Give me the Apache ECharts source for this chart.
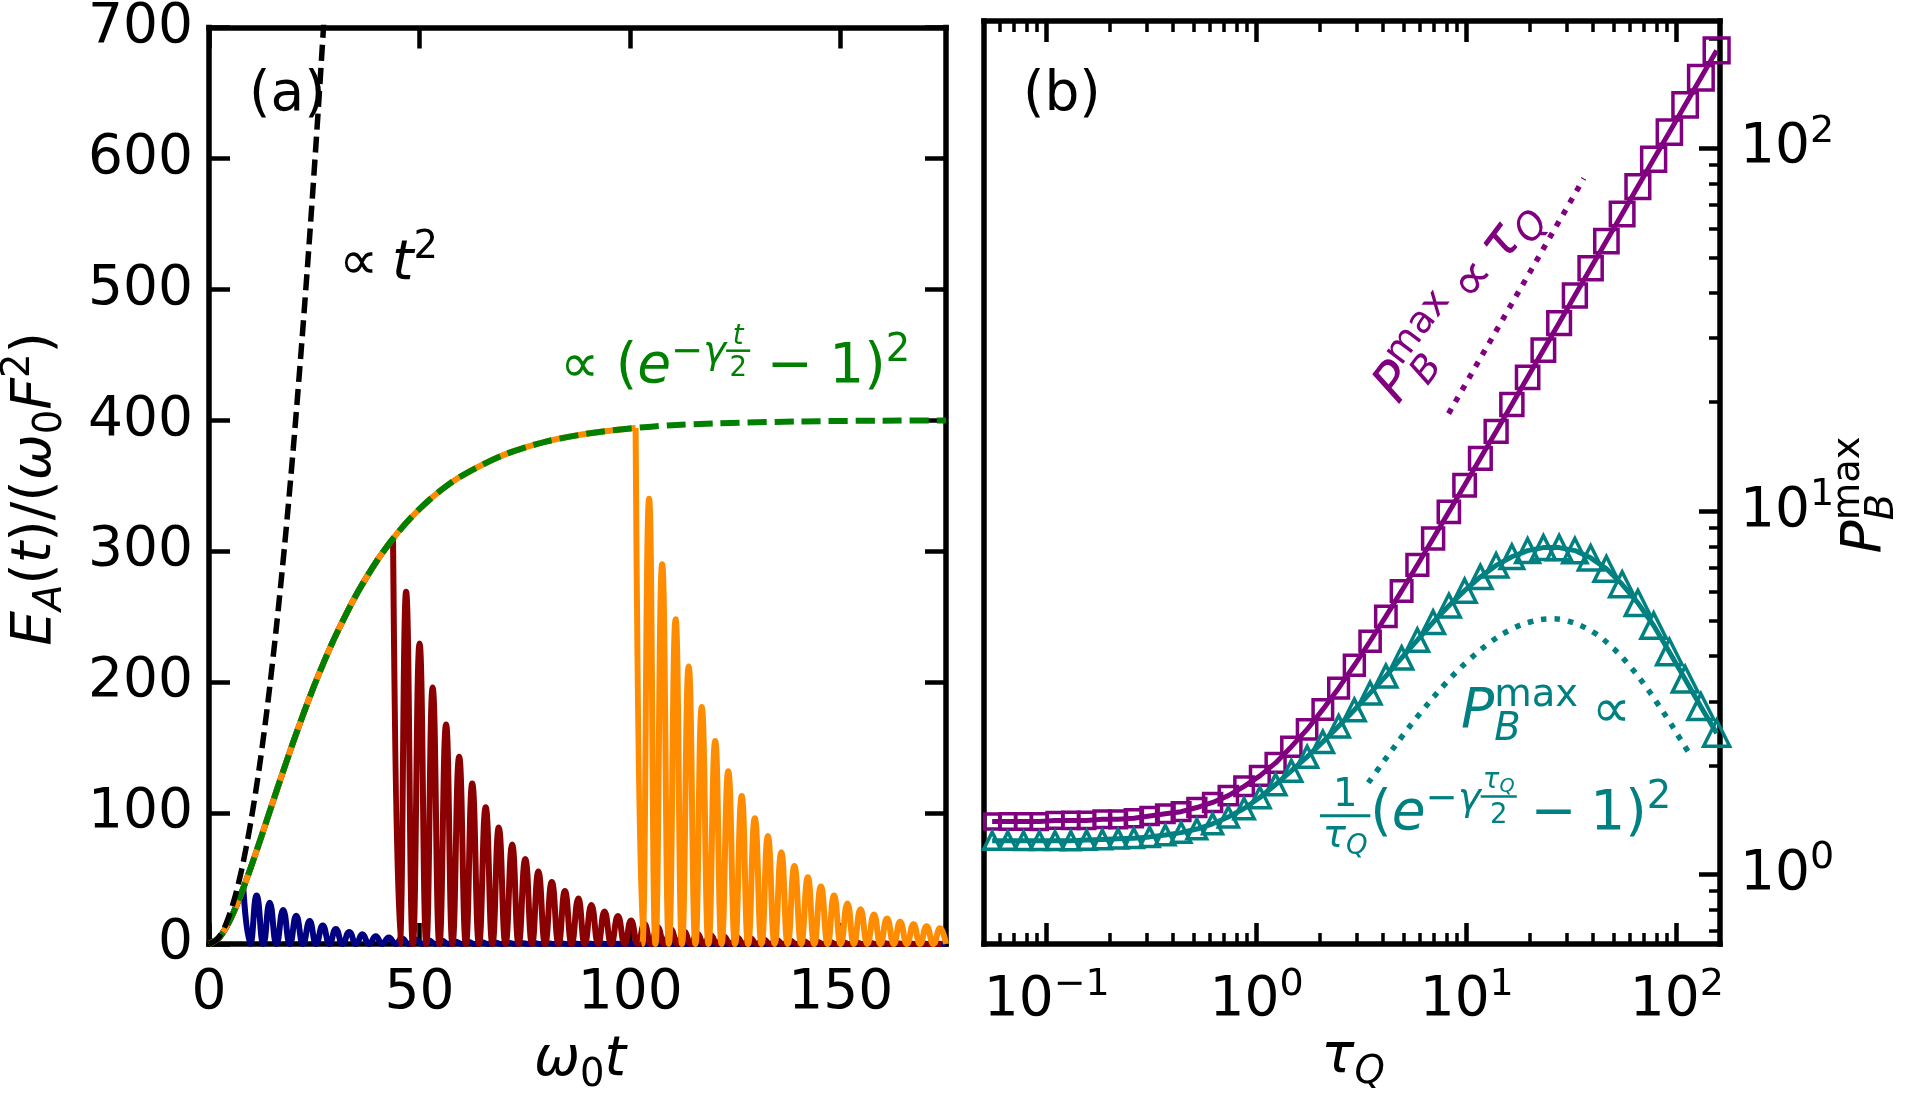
<!DOCTYPE html>
<html><head><meta charset="utf-8">
<script src="https://cdn.jsdelivr.net/npm/echarts@6/dist/echarts.min.js"></script>
<style>html,body{margin:0;padding:0;background:#fff;}#c{width:1917px;height:1095px;}</style>
</head><body><div id="c"></div>
<script>
// ---------------- DATA ----------------
// Panel (a)
const greenT = [0, 2.5, 5, 7.5, 10, 12.5, 15, 17.5, 20, 22.5, 25, 27.5, 30, 35, 40, 45, 50, 55, 60, 70, 80, 90, 100, 110, 120, 140, 160, 175];
const greenV = [0, 5.2, 18.5, 37.2, 59.1, 82.7, 106.9, 130.9, 154.2, 176.5, 197.5, 217.0, 235.1, 266.9, 293.3, 314.9, 332.3, 346.4, 357.6, 373.6, 383.7, 389.9, 393.8, 396.2, 397.6, 399.1, 399.7, 399.9];
const t2T = [0, 2, 4, 6, 8, 10, 12, 14, 16, 18, 20, 22, 24, 26, 28];
const t2V = [0, 3.8, 15.1, 34.1, 60.5, 94.6, 136, 185, 242, 306, 378, 458, 545, 640, 742];

const navyPeakT = [8.15, 11.3, 14.4, 17.6, 20.7, 23.9, 27.0, 30.1, 33.3, 36.4, 39.6, 42.7, 45.8, 49.0, 52.1, 55.3, 58.4, 61.5, 64.7, 67.8, 71.0, 74.1, 77.2, 80.4, 83.5, 86.7, 89.8, 92.9, 96.1, 99.2];
const navyPeakV = [42.6, 37, 31.5, 26, 21.5, 17.5, 14.2, 11.5, 9.2, 7.4, 6.0, 5.0, 4.2, 3.5, 2.9, 2.4, 2.0, 1.7, 1.4, 1.2, 1.0, 0.85, 0.7, 0.6, 0.5, 0.42, 0.36, 0.3, 0.25, 0.21];
const navyTroughT = [9.8, 12.9, 16.0, 19.2, 22.3, 25.4, 28.6, 31.7, 34.9, 38.0, 41.1, 44.3, 47.4, 50.6, 53.7, 56.8, 60.0, 63.1, 66.3, 69.4, 72.5, 75.7, 78.8, 82.0, 85.1, 88.2, 91.4, 94.5, 97.7, 100.8, 175];

const redPeakT = [43.7, 46.8, 50.0, 53.1, 56.3, 59.4, 62.5, 65.7, 68.8, 72.0, 75.1, 78.2, 81.4, 84.5, 87.7, 90.8, 93.9, 97.1, 100.2, 103.4, 106.5, 109.7, 112.8, 115.9, 119.1, 122.2, 125.4, 128.5, 131.6, 134.8, 137.9, 141.1, 144.2, 147.3, 150.5, 153.6, 156.8, 159.9, 163.0, 166.2, 169.3, 172.5];
const redPeakV = [309.7, 269, 229.6, 196, 167.7, 143, 122.5, 104.5, 89, 76, 65, 55.3, 47.4, 40.4, 34.7, 29.7, 24.9, 21.3, 17.9, 15.3, 13, 11.1, 9.5, 8.1, 6.9, 5.9, 5.0, 4.3, 3.7, 3.1, 2.7, 2.3, 1.9, 1.7, 1.4, 1.2, 1.0, 0.9, 0.8, 0.6, 0.55, 0.47];
const redTroughT = [45.3, 48.4, 51.6, 54.7, 57.8, 61.0, 64.1, 67.3, 70.4, 73.5, 76.7, 79.8, 83.0, 86.1, 89.2, 92.4, 95.5, 98.7, 101.8, 104.9, 108.1, 111.2, 114.4, 117.5, 120.6, 123.8, 126.9, 130.1, 133.2, 136.3, 139.5, 142.6, 145.8, 148.9, 152.0, 155.2, 158.3, 161.5, 164.6, 167.7, 170.9, 174.0];

const orangePeakT = [101.3, 104.5, 107.6, 110.8, 113.9, 117.0, 120.2, 123.3, 126.5, 129.6, 132.7, 135.9, 139.0, 142.2, 145.3, 148.4, 151.6, 154.7, 157.9, 161.0, 164.1, 167.3, 170.4, 173.6];
const orangePeakV = [394.1, 340, 290, 248, 212, 181, 155, 132, 113, 96, 82.5, 70, 59.5, 51, 44, 37, 31, 26.5, 22.5, 19.5, 17, 15, 13.5, 12];
const orangeTroughT = [102.9, 106.0, 109.2, 112.3, 115.5, 118.6, 121.7, 124.9, 128.0, 131.2, 134.3, 137.4, 140.6, 143.7, 146.9, 150.0, 153.1, 156.3, 159.4, 162.6, 165.7, 168.8, 172.0, 175.0];
const troughLevel = 0;

// Panel (b)
const tauQ = [0.0550, 0.0653, 0.0776, 0.0923, 0.1096, 0.1303, 0.1549, 0.1841, 0.2188, 0.2600, 0.3090, 0.3673, 0.4365, 0.5188, 0.6166, 0.7328, 0.8710, 1.0351, 1.2303, 1.4622, 1.7378, 2.0654, 2.4547, 2.9174, 3.4674, 4.1210, 4.8978, 5.8210, 6.9183, 8.2224, 9.7724, 11.614, 13.804, 16.406, 19.498, 23.174, 27.542, 32.734, 38.905, 46.238, 54.954, 65.313, 77.625, 92.257, 109.65, 130.32, 154.88];
const purpleP = [1.40, 1.40, 1.40, 1.40, 1.41, 1.41, 1.41, 1.42, 1.42, 1.43, 1.45, 1.47, 1.49, 1.53, 1.58, 1.65, 1.75, 1.87, 2.03, 2.25, 2.51, 2.85, 3.26, 3.77, 4.39, 5.14, 6.04, 7.12, 8.42, 9.97, 11.8, 14.0, 16.6, 19.7, 23.4, 27.8, 33.0, 39.3, 46.7, 55.5, 65.9, 78.4, 93.2, 110.7, 131.6, 156.4, 185.9];
const tealP = [1.24, 1.24, 1.24, 1.24, 1.24, 1.24, 1.245, 1.25, 1.255, 1.26, 1.27, 1.285, 1.305, 1.335, 1.38, 1.44, 1.52, 1.63, 1.77, 1.93, 2.11, 2.32, 2.56, 2.84, 3.16, 3.52, 3.95, 4.42, 4.95, 5.5, 6.05, 6.6, 7.1, 7.5, 7.8, 7.95, 7.95, 7.8, 7.45, 6.95, 6.3, 5.6, 4.85, 4.1, 3.45, 2.9, 2.45];
const purpleFitT = [8.2, 36.1];
const purpleFitV = [18.6, 82.6];
const tealFitT = [3.4, 4, 5, 6, 8, 10, 13, 16, 20, 25, 30, 40, 50, 60, 70, 80, 90, 100, 115];
const tealFitV = [1.79, 2.04, 2.43, 2.78, 3.38, 3.85, 4.37, 4.71, 4.96, 5.06, 5.0, 4.65, 4.19, 3.74, 3.34, 2.99, 2.70, 2.45, 2.15];

// Ticks
const aXTicks = [0, 50, 100, 150];
const aYTicks = [0, 100, 200, 300, 400, 500, 600, 700];
const bXTickExp = [-1, 0, 1, 2];
const bXMinor = [0.06, 0.07, 0.08, 0.09, 0.2, 0.3, 0.4, 0.5, 0.6, 0.7, 0.8, 0.9, 2, 3, 4, 5, 6, 7, 8, 9, 20, 30, 40, 50, 60, 70, 80, 90];
const bYTickExp = [0, 1, 2];
const bYMinor = [0.7, 0.8, 0.9, 2, 3, 4, 5, 6, 7, 8, 9, 20, 30, 40, 50, 60, 70, 80, 90, 200];

// ---------------- STYLE / LAYOUT ----------------
const FF = 'DejaVu Sans';
const FS = 55;
const C = {navy:'#000080', red:'#8b0000', orange:'#ff8c00', green:'#008000', purple:'#800080', teal:'#008080'};
const SPINE = 5.5, MAJ = 21, MINL = 11, TW = 4.5, TWm = 3.5, LW = 6;

const zip = (a, b) => a.map((v, i) => [v, b[i]]);
function osc(pT, pV, tT) {
  const d = [];
  for (let i = 0; i < Math.max(pT.length, tT.length); i++) {
    if (i < pT.length) d.push([pT[i], pV[i]]);
    if (i < tT.length) d.push([tT[i], troughLevel]);
  }
  return d;
}
function rise(t0, v0) {
  const d = [];
  greenT.forEach((t, i) => { if (t < t0) d.push([t, greenV[i]]); });
  d.push([t0, v0]);
  return d;
}

const lab = {fontSize: FS, fontFamily: FF, color: '#000'};
function spineOnly(extra) {
  return Object.assign({axisLine: {show: true, onZero: false, lineStyle: {color: '#000', width: SPINE, cap: 'square'}},
    axisTick: {show: false}, axisLabel: {show: false}, splitLine: {show: false}}, extra);
}
function ticksAxis(extra, vals, len, w, showLine, labelCfg) {
  return Object.assign({
    axisLine: {show: showLine, onZero: false, lineStyle: {color: '#000', width: SPINE, cap: 'square'}},
    axisTick: {show: true, inside: true, length: len, lineStyle: {color: '#000', width: w}, customValues: vals},
    axisLabel: labelCfg ? Object.assign({show: true, customValues: vals}, labelCfg) : {show: false, customValues: vals},
    splitLine: {show: false}, minorTick: {show: false}
  }, extra);
}
const supRich = {b: {fontSize: FS, fontFamily: FF, color: '#000'}, s: {fontSize: 38, fontFamily: FF, color: '#000', padding: [0, 0, 32, 0]}};
const powFmt = v => { const e = Math.round(Math.log10(v)); return '{b|10}{s|' + (e < 0 ? '\u2212' : '') + Math.abs(e) + '}'; };

const bXMaj = bXTickExp.map(e => Math.pow(10, e));
const bYMaj = bYTickExp.map(e => Math.pow(10, e));
const bxr = {min: 0.0503, max: 160.7, type: 'log', logBase: 10, gridIndex: 1};
const byr = {min: 0.644, max: 224, type: 'log', logBase: 10, gridIndex: 1};

const xAxis = [
  ticksAxis({type: 'value', gridIndex: 0, min: 0, max: 175, position: 'bottom'}, aXTicks, MAJ, TW, true, Object.assign({margin: 22}, lab)),
  ticksAxis({type: 'value', gridIndex: 0, min: 0, max: 175, position: 'top'}, aXTicks, MAJ, TW, true, null),
  ticksAxis(Object.assign({position: 'bottom'}, bxr), bXMaj, MAJ, TW, true, {margin: 22, formatter: powFmt, rich: supRich}),
  ticksAxis(Object.assign({position: 'top'}, bxr), bXMaj, MAJ, TW, true, null),
  ticksAxis(Object.assign({position: 'bottom'}, bxr), bXMinor, MINL, TWm, false, null),
  ticksAxis(Object.assign({position: 'top'}, bxr), bXMinor, MINL, TWm, false, null)
];
const yAxis = [
  ticksAxis({type: 'value', gridIndex: 0, min: 0, max: 700, position: 'left'}, aYTicks, MAJ, TW, true, Object.assign({margin: 16}, lab)),
  ticksAxis({type: 'value', gridIndex: 0, min: 0, max: 700, position: 'right'}, aYTicks, MAJ, TW, true, null),
  ticksAxis(Object.assign({position: 'right'}, byr), bYMaj, MAJ, TW, true, {margin: 20, formatter: powFmt, rich: supRich, align: 'left'}),
  ticksAxis(Object.assign({position: 'right'}, byr), bYMinor, MINL, TWm, false, null),
  spineOnly(Object.assign({position: 'left'}, byr))
];

function lineS(data, color, w, extra) {
  return Object.assign({type: 'line', data: data, showSymbol: false, symbol: 'none', clip: true, silent: true,
    lineStyle: {color: color, width: w}, itemStyle: {color: color}, xAxisIndex: 0, yAxisIndex: 0}, extra || {});
}
const oscOpt = {smooth: 0.5, smoothMonotone: 'x'};
const series = [
  lineS(rise(navyPeakT[0], navyPeakV[0]), C.navy, LW, {smooth: 0.3}),
  lineS(osc(navyPeakT, navyPeakV, navyTroughT), C.navy, LW, oscOpt),
  lineS(rise(redPeakT[0], redPeakV[0]), C.red, LW, {smooth: 0.3}),
  lineS(osc(redPeakT, redPeakV, redTroughT), C.red, LW, oscOpt),
  lineS(rise(orangePeakT[0], orangePeakV[0]), C.orange, LW, {smooth: 0.3}),
  lineS(osc(orangePeakT, orangePeakV, orangeTroughT), C.orange, LW, oscOpt),
  lineS(zip(greenT, greenV), C.green, LW, {smooth: 0.3, lineStyle: {color: C.green, width: 6, type: [19, 8]}}),
  lineS(zip(t2T, t2V), '#000', 5.5, {smooth: 0.3, lineStyle: {color: '#000', width: 5.5, type: [16, 7]}}),
  // panel b
  lineS(zip(purpleFitT, purpleFitV), C.purple, 5, {xAxisIndex: 2, yAxisIndex: 2, lineStyle: {color: C.purple, width: 5.5, type: [5.5, 8]}}),
  lineS(zip(tealFitT, tealFitV), C.teal, 5, {xAxisIndex: 2, yAxisIndex: 2, smooth: 0.4, lineStyle: {color: C.teal, width: 5.5, type: [5.5, 8]}}),
  {type: 'line', xAxisIndex: 2, yAxisIndex: 2, data: zip(tauQ, purpleP), silent: true, showSymbol: true, symbol: 'rect',
    symbolSize: v => 15 + 2.8 * (Math.log10(v[0]) + 1.3), lineStyle: {color: C.purple, width: 5},
    itemStyle: {color: 'rgba(0,0,0,0)', borderColor: C.purple, borderWidth: 3.5}},
  {type: 'line', xAxisIndex: 2, yAxisIndex: 2, data: zip(tauQ, tealP), silent: true, showSymbol: true, symbol: 'triangle',
    symbolSize: v => 17 + 2.6 * (Math.log10(v[0]) + 1.3), lineStyle: {color: C.teal, width: 5},
    itemStyle: {color: 'rgba(0,0,0,0)', borderColor: C.teal, borderWidth: 3.5}}
];

// ---------------- math text layout ----------------
const mctx = document.createElement('canvas').getContext('2d');
function tw(t, fs, it) { mctx.font = (it ? 'italic ' : '') + fs + 'px "' + FF + '"'; return mctx.measureText(t).width; }
const MID = 0.346;
function txt(t, x, yb, fs, it, color) {
  return {type: 'text', x: x, y: yb - MID * fs, silent: true,
    style: {text: t, fontSize: fs, fontFamily: FF, fontStyle: it ? 'italic' : 'normal', fill: color,
      align: 'left', verticalAlign: 'middle', textAlign: 'left', textVerticalAlign: 'middle'}};
}
function lay(toks, base, color, x0) {
  let x = x0; const els = [];
  for (const k of toks) {
    if (k.sp !== undefined) { x += k.sp * base; continue; }
    if (k.ss) {
      let w = 0;
      for (const s of k.ss) { const r = lay([s], base, color, x); els.push(...r.els); w = Math.max(w, r.x - x); }
      x += w; continue;
    }
    if (k.fr) {
      const nr = lay(k.fr[0], base, color, 0), dr = lay(k.fr[1], base, color, 0);
      const pad = (k.pad || 0.06) * base;
      const w = Math.max(nr.x, dr.x) + 2 * pad;
      const no = x + (w - nr.x) / 2, d0 = x + (w - dr.x) / 2;
      nr.els.forEach(e => { e.x += no; }); dr.els.forEach(e => { e.x += d0; });
      els.push(...nr.els, ...dr.els);
      els.push({type: 'rect', silent: true, shape: {x: x, y: -k.bar * base - k.bw / 2, width: w, height: k.bw}, style: {fill: color}});
      x += w; continue;
    }
    const fs = base * (k.s || 1);
    els.push(txt(k.t, x, -(k.dy || 0) * base, fs, k.it, color));
    x += tw(k.t, fs, k.it);
  }
  return {els: els, x: x};
}
function mathGroup(toks, base, color, x, y, anchor, rotDeg) {
  const r = lay(toks, base, color, 0);
  const off = anchor === 'center' ? -r.x / 2 : 0;
  r.els.forEach(e => { if (e.type === 'rect') e.shape.x += off; else e.x += off; });
  return {type: 'group', x: x, y: y, rotation: (rotDeg || 0) * Math.PI / 180, children: r.els, silent: true};
}
const SUB = -0.17, SUP = 0.42;
const PB = [{t: 'P', it: 1}, {ss: [{t: 'max', s: .7, dy: SUP}, {t: 'B', it: 1, s: .7, dy: -0.2}]}];
const tokYA = [{t: 'E', it: 1}, {t: 'A', it: 1, s: .7, dy: SUB}, {t: '('}, {t: 't', it: 1}, {t: ')/('}, {t: 'ω', it: 1}, {t: '0', s: .7, dy: SUB}, {t: 'F', it: 1}, {t: '2', s: .7, dy: SUP}, {t: ')'}];
const tokXA = [{t: 'ω', it: 1}, {t: '0', s: .7, dy: SUB}, {t: 't', it: 1}];
const tokXB = [{t: 'τ', it: 1}, {t: 'Q', it: 1, s: .7, dy: SUB}];
const tokT2 = [{t: '∝'}, {sp: .25}, {t: 't', it: 1}, {t: '2', s: .7, dy: SUP}];
const tokGreen = [{t: '∝'}, {sp: .3}, {t: '('}, {t: 'e', it: 1}, {t: '−', s: .7, dy: .38}, {t: 'γ', it: 1, s: .7, dy: .38},
  {fr: [[{t: 't', it: 1, s: .5, dy: .74}], [{t: '2', s: .5, dy: .16}]], bar: .66, bw: 2.5, pad: .06},
  {sp: .3}, {t: '−'}, {sp: .3}, {t: '1'}, {t: ')'}, {t: '2', s: .7, dy: SUP}];
const tokPurple = PB.concat([{sp: .2}, {t: '∝'}, {sp: .2}, {t: 'τ', it: 1}, {t: 'Q', it: 1, s: .7, dy: SUB}]);
const tokTeal1 = PB.concat([{sp: .25}, {t: '∝'}]);
const tokTeal2 = [{fr: [[{t: '1', s: .7, dy: .45}], [{t: 'τ', it: 1, s: .7, dy: -0.3}, {t: 'Q', it: 1, s: .5, dy: -0.4}]], bar: .33, bw: 3, pad: .05},
  {t: '('}, {t: 'e', it: 1}, {t: '−', s: .7, dy: .38}, {t: 'γ', it: 1, s: .7, dy: .38},
  {fr: [[{t: 'τ', it: 1, s: .5, dy: .8}, {t: 'Q', it: 1, s: .35, dy: .74}], [{t: '2', s: .5, dy: .16}]], bar: .68, bw: 2.5, pad: .04},
  {sp: .25}, {t: '−'}, {sp: .25}, {t: '1'}, {t: ')'}, {t: '2', s: .7, dy: SUP}];

const graphic = [
  mathGroup([{t: '(a)'}], FS, '#000', 249, 115, 'left'),
  mathGroup([{t: '(b)'}], FS, '#000', 1023, 115, 'left'),
  mathGroup(tokT2, FS, '#000', 339, 284, 'left'),
  mathGroup(tokGreen, FS, C.green, 560, 387, 'left'),
  mathGroup(tokYA, FS, '#000', 55, 489, 'center', 90),
  mathGroup(tokXA, FS, '#000', 580, 1080, 'center'),
  mathGroup(tokXB, FS, '#000', 1353, 1077, 'center'),
  mathGroup(PB, FS, '#000', 1885, 495, 'center', 90),
  mathGroup(tokPurple, 54, C.purple, 1402, 408, 'left', 53),
  mathGroup(tokTeal1, FS, C.teal, 1461, 732, 'left'),
  mathGroup(tokTeal2, FS, C.teal, 1320, 834, 'left')
];

const chart = echarts.init(document.getElementById('c'), null, {renderer: 'canvas'});
chart.setOption({
  animation: false,
  backgroundColor: '#fff',
  grid: [{left: 209, top: 21, width: 737, height: 923, containLabel: false},
         {left: 984, top: 21, width: 736, height: 923, containLabel: false}],
  xAxis: xAxis, yAxis: yAxis, series: series, graphic: graphic
});
</script></body></html>
